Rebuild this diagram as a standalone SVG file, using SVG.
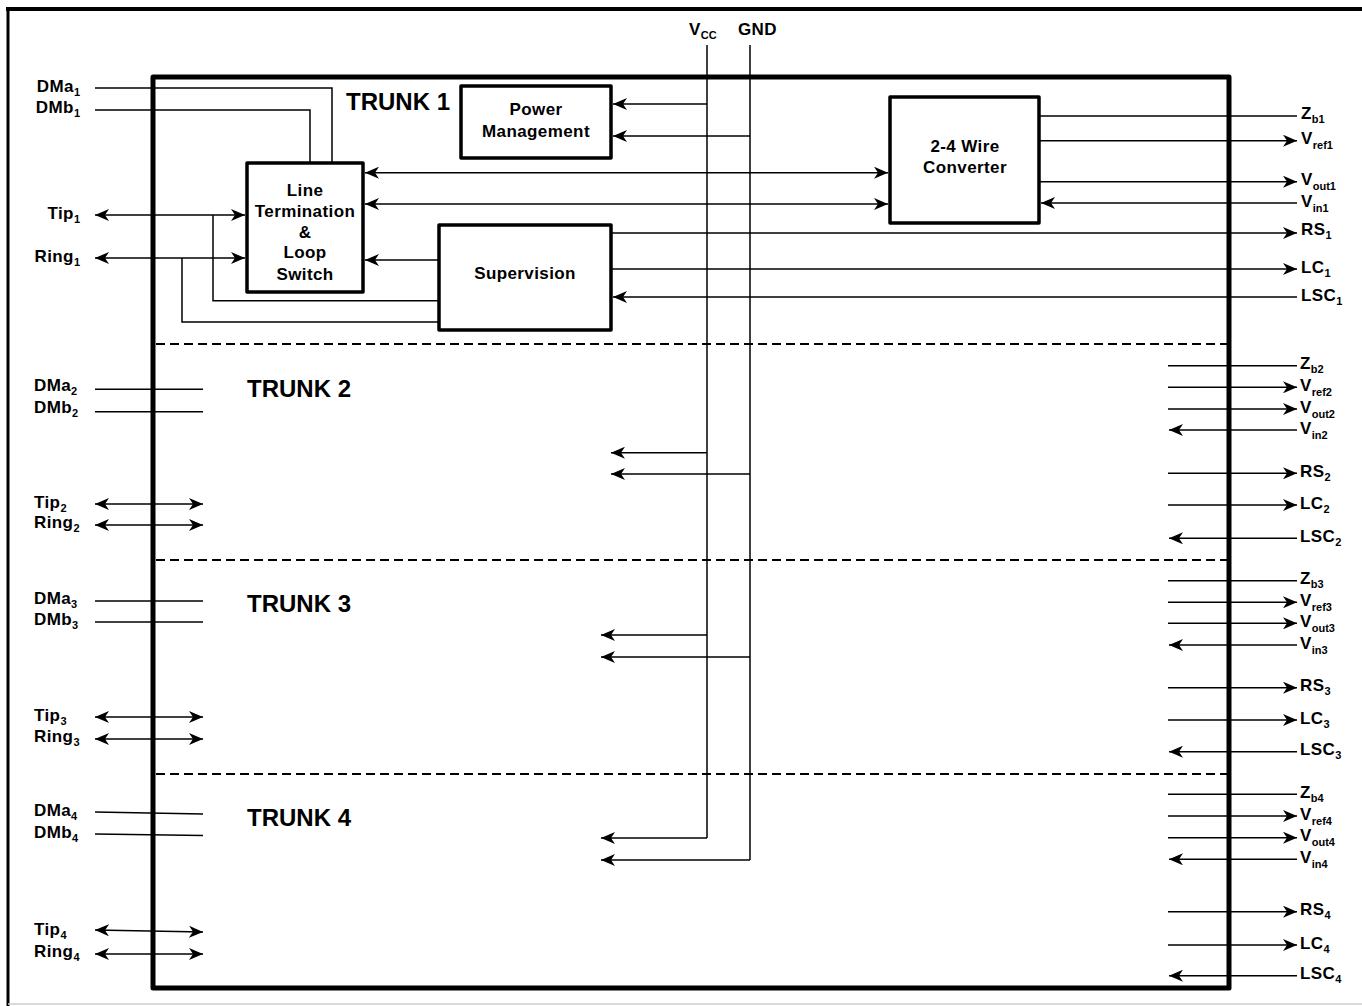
<svg xmlns="http://www.w3.org/2000/svg" width="1362" height="1006" viewBox="0 0 1362 1006">
<style>
.t{font-family:"Liberation Sans",Arial,sans-serif;font-weight:bold;font-size:17px;fill:#000;letter-spacing:0.4px}
.c{text-anchor:middle}
.e{text-anchor:end}
.s{font-size:11px;letter-spacing:0}
.trunk{font-size:24px;letter-spacing:0}
.box{fill:#fff;stroke:#000;stroke-width:3.5;stroke-linejoin:round}
.w{stroke:#000;stroke-width:1.5;fill:none}
.a{marker-end:url(#ah)}
.d{marker-start:url(#ah);marker-end:url(#ah)}
.dash{stroke:#000;stroke-width:2;stroke-dasharray:9 5;fill:none}
</style>
<defs>
<marker id="ah" viewBox="0 0 14 12" refX="14" refY="6" markerWidth="14" markerHeight="12" markerUnits="userSpaceOnUse" orient="auto-start-reverse"><path d="M0,0 L14,6 L0,12 L4,6 Z" fill="#000"/></marker>
</defs>
<rect width="1362" height="1006" fill="#fff"/>
<g id="frame">
<line x1="6" y1="9" x2="1362" y2="9" stroke="#000" stroke-width="4"/>
<line x1="8" y1="7" x2="8" y2="1006" stroke="#000" stroke-width="3"/>
<line x1="8" y1="1004" x2="1362" y2="1004" stroke="#ccc" stroke-width="1.5"/>
</g>
<g id="connectors">
<!-- Vcc / GND rails -->
<line class="w" x1="707" y1="45" x2="707" y2="838"/>
<line class="w" x1="750" y1="45" x2="750" y2="860"/>
<!-- Trunk 1 -->
<polyline class="w" points="95,88 332,88 332,163"/>
<polyline class="w" points="95,110 310,110 310,163"/>
<line class="w d" x1="95" y1="215" x2="245" y2="215"/>
<line class="w d" x1="95" y1="258" x2="245" y2="258"/>
<polyline class="w" points="213,215 213,300.7 439,300.7"/>
<polyline class="w" points="182,258 182,322 439,322"/>
<line class="w a" x1="439" y1="260" x2="365" y2="260"/>
<line class="w d" x1="365" y1="172.7" x2="888" y2="172.7"/>
<line class="w d" x1="365" y1="204" x2="888" y2="204"/>
<line class="w a" x1="707" y1="104" x2="613" y2="104"/>
<line class="w a" x1="750" y1="136" x2="613" y2="136"/>
<line class="w" x1="1039" y1="116" x2="1297" y2="116"/>
<line class="w a" x1="1039" y1="140.7" x2="1297" y2="140.7"/>
<line class="w a" x1="1039" y1="181.7" x2="1297" y2="181.7"/>
<line class="w a" x1="1297" y1="203" x2="1041" y2="203"/>
<line class="w a" x1="611" y1="233" x2="1297" y2="233"/>
<line class="w a" x1="611" y1="269" x2="1297" y2="269"/>
<line class="w a" x1="1297" y1="297" x2="613" y2="297"/>
<!-- Trunk 2 -->
<line class="w" x1="95" y1="389.3" x2="203" y2="389.3"/>
<line class="w" x1="95" y1="411.7" x2="203" y2="411.7"/>
<line class="w d" x1="95" y1="504" x2="203" y2="504"/>
<line class="w d" x1="95" y1="525" x2="203" y2="525"/>
<line class="w a" x1="707" y1="452.7" x2="611" y2="452.7"/>
<line class="w a" x1="750" y1="474" x2="611" y2="474"/>
<line class="w" x1="1168" y1="365.7" x2="1297" y2="365.7"/>
<line class="w a" x1="1168" y1="387.3" x2="1297" y2="387.3"/>
<line class="w a" x1="1168" y1="409" x2="1297" y2="409"/>
<line class="w a" x1="1297" y1="430" x2="1169" y2="430"/>
<line class="w a" x1="1168" y1="473.3" x2="1297" y2="473.3"/>
<line class="w a" x1="1168" y1="505" x2="1297" y2="505"/>
<line class="w a" x1="1297" y1="538.3" x2="1169" y2="538.3"/>
<!-- Trunk 3 -->
<line class="w" x1="95" y1="601" x2="203" y2="601"/>
<line class="w" x1="95" y1="622" x2="203" y2="622"/>
<line class="w d" x1="95" y1="717" x2="203" y2="717"/>
<line class="w d" x1="95" y1="739" x2="203" y2="739"/>
<line class="w a" x1="707" y1="635" x2="601" y2="635"/>
<line class="w a" x1="750" y1="657" x2="601" y2="657"/>
<line class="w" x1="1168" y1="580.7" x2="1297" y2="580.7"/>
<line class="w a" x1="1168" y1="602.3" x2="1297" y2="602.3"/>
<line class="w a" x1="1168" y1="623.3" x2="1297" y2="623.3"/>
<line class="w a" x1="1297" y1="645" x2="1169" y2="645"/>
<line class="w a" x1="1168" y1="687.7" x2="1297" y2="687.7"/>
<line class="w a" x1="1168" y1="720" x2="1297" y2="720"/>
<line class="w a" x1="1297" y1="751.7" x2="1169" y2="751.7"/>
<!-- Trunk 4 -->
<line class="w" x1="95" y1="812" x2="203" y2="814"/>
<line class="w" x1="95" y1="834" x2="203" y2="835.5"/>
<line class="w d" x1="95" y1="930" x2="203" y2="932"/>
<line class="w d" x1="95" y1="954" x2="203" y2="954"/>
<line class="w a" x1="707" y1="838" x2="601" y2="838"/>
<line class="w a" x1="750" y1="860" x2="601" y2="860"/>
<line class="w" x1="1168" y1="794.3" x2="1297" y2="794.3"/>
<line class="w a" x1="1168" y1="816" x2="1297" y2="816"/>
<line class="w a" x1="1168" y1="837.7" x2="1297" y2="837.7"/>
<line class="w a" x1="1297" y1="859.3" x2="1169" y2="859.3"/>
<line class="w a" x1="1168" y1="911.7" x2="1297" y2="911.7"/>
<line class="w a" x1="1168" y1="945" x2="1297" y2="945"/>
<line class="w a" x1="1297" y1="975.7" x2="1169" y2="975.7"/>
<!-- trunk separators -->
<line class="dash" x1="156" y1="344" x2="1233" y2="344"/>
<line class="dash" x1="156" y1="560" x2="1233" y2="560"/>
<line class="dash" x1="156" y1="774" x2="1233" y2="774"/>
</g>
<g id="chip">
<rect x="153" y="77" width="1076" height="911" fill="none" stroke="#000" stroke-width="5" stroke-linejoin="round"/>
</g>
<g id="line-termination">
<rect class="box" x="247" y="163" width="116" height="129"/>
<text class="t c" x="305" y="196">Line</text>
<text class="t c" x="305" y="217">Termination</text>
<text class="t c" x="305" y="238">&amp;</text>
<text class="t c" x="305" y="258">Loop</text>
<text class="t c" x="305" y="280">Switch</text>
</g>
<g id="power-management">
<rect class="box" x="461" y="86" width="150" height="72"/>
<text class="t c" x="536" y="115">Power</text>
<text class="t c" x="536" y="137">Management</text>
</g>
<g id="converter">
<rect class="box" x="890" y="97" width="149" height="126"/>
<text class="t c" x="965" y="152">2-4 Wire</text>
<text class="t c" x="965" y="173">Converter</text>
</g>
<g id="supervision">
<rect class="box" x="439" y="225" width="172" height="105"/>
<text class="t c" x="525" y="279">Supervision</text>
</g>
<g id="labels">
<text class="t trunk" x="346" y="110">TRUNK 1</text>
<text class="t trunk" x="247" y="397">TRUNK 2</text>
<text class="t trunk" x="247" y="612">TRUNK 3</text>
<text class="t trunk" x="247" y="826">TRUNK 4</text>
<text class="t" x="689" y="35">V<tspan class="s" dy="4">CC</tspan></text>
<text class="t" x="738" y="35">GND</text>
<!-- left trunk 1 -->
<text class="t e" x="80" y="92">DMa<tspan class="s" dy="4">1</tspan></text>
<text class="t e" x="80" y="113">DMb<tspan class="s" dy="4">1</tspan></text>
<text class="t e" x="80" y="219">Tip<tspan class="s" dy="4">1</tspan></text>
<text class="t e" x="80" y="261.5">Ring<tspan class="s" dy="4">1</tspan></text>
<!-- left trunk 2 -->
<text class="t" x="34" y="391">DMa<tspan class="s" dy="4">2</tspan></text>
<text class="t" x="34" y="413">DMb<tspan class="s" dy="4">2</tspan></text>
<text class="t" x="34" y="508">Tip<tspan class="s" dy="4">2</tspan></text>
<text class="t" x="34" y="527.5">Ring<tspan class="s" dy="4">2</tspan></text>
<!-- left trunk 3 -->
<text class="t" x="34" y="604">DMa<tspan class="s" dy="4">3</tspan></text>
<text class="t" x="34" y="625">DMb<tspan class="s" dy="4">3</tspan></text>
<text class="t" x="34" y="721">Tip<tspan class="s" dy="4">3</tspan></text>
<text class="t" x="34" y="742">Ring<tspan class="s" dy="4">3</tspan></text>
<!-- left trunk 4 -->
<text class="t" x="34" y="816">DMa<tspan class="s" dy="4">4</tspan></text>
<text class="t" x="34" y="838">DMb<tspan class="s" dy="4">4</tspan></text>
<text class="t" x="34" y="935">Tip<tspan class="s" dy="4">4</tspan></text>
<text class="t" x="34" y="957">Ring<tspan class="s" dy="4">4</tspan></text>
<!-- right trunk 1 -->
<text class="t" x="1301" y="119">Z<tspan class="s" dy="4">b1</tspan></text>
<text class="t" x="1301" y="144">V<tspan class="s" dy="5">ref1</tspan></text>
<text class="t" x="1301" y="185">V<tspan class="s" dy="5">out1</tspan></text>
<text class="t" x="1301" y="207">V<tspan class="s" dy="5">in1</tspan></text>
<text class="t" x="1301" y="234.5">RS<tspan class="s" dy="4">1</tspan></text>
<text class="t" x="1301" y="272.5">LC<tspan class="s" dy="4">1</tspan></text>
<text class="t" x="1301" y="300.5">LSC<tspan class="s" dy="4">1</tspan></text>
<!-- right trunk 2 -->
<text class="t" x="1300" y="369">Z<tspan class="s" dy="4">b2</tspan></text>
<text class="t" x="1300" y="391">V<tspan class="s" dy="5">ref2</tspan></text>
<text class="t" x="1300" y="412.5">V<tspan class="s" dy="5">out2</tspan></text>
<text class="t" x="1300" y="433.5">V<tspan class="s" dy="5">in2</tspan></text>
<text class="t" x="1300" y="477">RS<tspan class="s" dy="4">2</tspan></text>
<text class="t" x="1300" y="508.5">LC<tspan class="s" dy="4">2</tspan></text>
<text class="t" x="1300" y="542">LSC<tspan class="s" dy="4">2</tspan></text>
<!-- right trunk 3 -->
<text class="t" x="1300" y="584">Z<tspan class="s" dy="4">b3</tspan></text>
<text class="t" x="1300" y="606">V<tspan class="s" dy="5">ref3</tspan></text>
<text class="t" x="1300" y="627">V<tspan class="s" dy="5">out3</tspan></text>
<text class="t" x="1300" y="648.5">V<tspan class="s" dy="5">in3</tspan></text>
<text class="t" x="1300" y="691">RS<tspan class="s" dy="4">3</tspan></text>
<text class="t" x="1300" y="723.5">LC<tspan class="s" dy="4">3</tspan></text>
<text class="t" x="1300" y="755">LSC<tspan class="s" dy="4">3</tspan></text>
<!-- right trunk 4 -->
<text class="t" x="1300" y="798">Z<tspan class="s" dy="4">b4</tspan></text>
<text class="t" x="1300" y="819.5">V<tspan class="s" dy="5">ref4</tspan></text>
<text class="t" x="1300" y="841">V<tspan class="s" dy="5">out4</tspan></text>
<text class="t" x="1300" y="863">V<tspan class="s" dy="5">in4</tspan></text>
<text class="t" x="1300" y="915">RS<tspan class="s" dy="4">4</tspan></text>
<text class="t" x="1300" y="948.5">LC<tspan class="s" dy="4">4</tspan></text>
<text class="t" x="1300" y="979">LSC<tspan class="s" dy="4">4</tspan></text>
</g>
</svg>
